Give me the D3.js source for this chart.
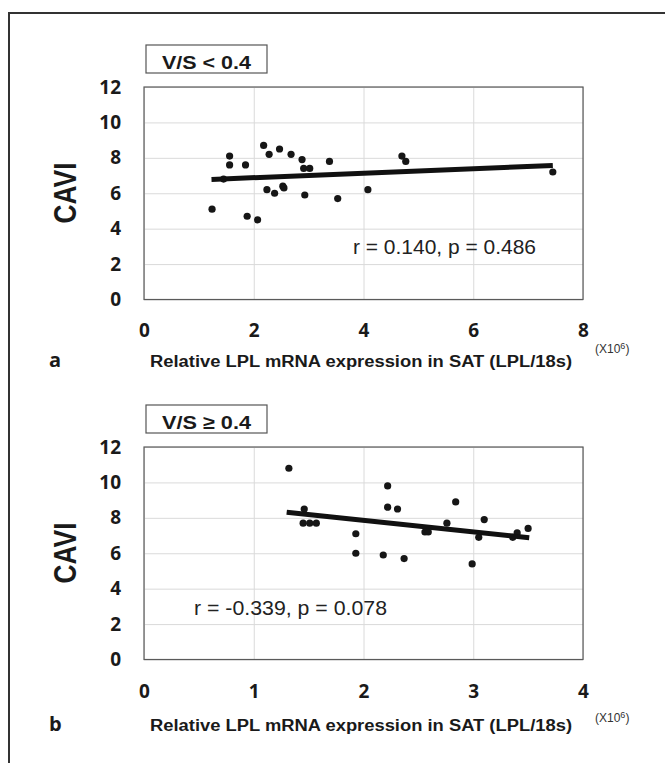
<!DOCTYPE html>
<html>
<head>
<meta charset="utf-8">
<script src="https://cdn.jsdelivr.net/npm/d3@7"></script>
<style>
  body { margin: 0; background: #fff; }
  svg { display: block; }
</style>
</head>
<body>
<div id="chart"></div>
<script>
// --- data ---
const yTicks = [0, 2, 4, 6, 8, 10, 12];

// panel a : V/S < 0.4
const aXTicks = [0, 2, 4, 6, 8];
const aX = [1.24, 1.45, 1.56, 1.56, 1.85, 1.88, 2.07, 2.18, 2.28, 2.24, 2.38, 2.47, 2.53,
            2.55, 2.68, 2.88, 2.91, 3.02, 2.93, 3.38, 3.53, 4.08, 4.70, 4.77, 7.45];
const aY = [5.1, 6.8, 8.1, 7.6, 7.6, 4.7, 4.5, 8.7, 8.2, 6.2, 6.0, 8.5, 6.4,
            6.3, 8.2, 7.9, 7.4, 7.4, 5.9, 7.8, 5.7, 6.2, 8.1, 7.8, 7.2];
const aFitX = [1.23, 7.45];
const aFitY = [6.78, 7.57];

// panel b : V/S >= 0.4
const bXTicks = [0, 1, 2, 3, 4];
const bX = [1.32, 1.46, 1.45, 1.51, 1.57, 1.93, 1.93, 2.22, 2.22, 2.31, 2.18,
            2.37, 2.56, 2.59, 2.76, 2.84, 3.05, 3.10, 2.99, 3.36, 3.40, 3.50];
const bY = [10.8, 8.5, 7.7, 7.7, 7.7, 7.1, 6.0, 9.8, 8.6, 8.5, 5.9,
            5.7, 7.2, 7.2, 7.7, 8.9, 6.9, 7.9, 5.4, 6.9, 7.15, 7.4];
const bFitX = [1.30, 3.51];
const bFitY = [8.32, 6.88];

const W = 665, H = 763;
const svg = d3.select("#chart").append("svg")
  .attr("width", W).attr("height", H);

// outer frame (left + top only visible)
svg.append("path")
  .attr("d", `M9,${H} V13 H${W}`)
  .attr("fill", "none")
  .attr("stroke", "#333")
  .attr("stroke-width", 2);

const tickFont = "'Open Sans', Lato, sans-serif";
const arial = "'Liberation Sans', Arial, sans-serif";

function drawPanel(cfg) {
  const left = 144, right = 583;
  const top = cfg.top, bottom = cfg.top + 212.5;

  const x = d3.scaleLinear().domain([0, cfg.xMax]).range([left, right]);
  const y = d3.scaleLinear().domain([0, 12]).range([bottom, top]);

  const g = svg.append("g");

  // grid lines
  g.append("g")
    .attr("transform", `translate(0,${bottom})`)
    .call(d3.axisBottom(x).tickValues(cfg.xTicks).tickSize(-(bottom - top)).tickFormat(""))
    .call(s => s.select(".domain").remove())
    .call(s => s.selectAll("line").attr("stroke", "#dadada"));
  g.append("g")
    .attr("transform", `translate(${left},0)`)
    .call(d3.axisLeft(y).tickValues(yTicks).tickSize(-(right - left)).tickFormat(""))
    .call(s => s.select(".domain").remove())
    .call(s => s.selectAll("line").attr("stroke", "#dadada"));

  // plot border
  g.append("rect")
    .attr("x", left).attr("y", top)
    .attr("width", right - left).attr("height", bottom - top)
    .attr("fill", "none")
    .attr("stroke", "#5a5a5a")
    .attr("stroke-width", 1.2);

  // tick labels
  g.append("g")
    .attr("transform", `translate(${left},0)`)
    .call(d3.axisLeft(y).tickValues(yTicks).tickSize(0).tickPadding(23).tickFormat(d3.format("d")))
    .call(s => s.select(".domain").remove())
    .call(s => s.selectAll("text")
      .attr("font-family", tickFont).attr("font-weight", 700)
      .attr("font-size", 19).attr("fill", "#1a1a1a"));
  g.append("g")
    .attr("transform", `translate(0,${bottom})`)
    .call(d3.axisBottom(x).tickValues(cfg.xTicks).tickSize(0).tickPadding(cfg.xPad).tickFormat(d3.format("d")))
    .call(s => s.select(".domain").remove())
    .call(s => s.selectAll("text")
      .attr("font-family", tickFont).attr("font-weight", 700)
      .attr("font-size", 19).attr("fill", "#1a1a1a"));

  // points
  const pts = cfg.xs.map((v, i) => ({ x: v, y: cfg.ys[i] }));
  g.selectAll(".dot").data(pts).enter().append("circle")
    .attr("class", "dot")
    .attr("cx", d => x(d.x)).attr("cy", d => y(d.y))
    .attr("r", 3.6)
    .attr("fill", "#161616");

  // regression line
  const fit = cfg.fitX.map((v, i) => ({ x: v, y: cfg.fitY[i] }));
  g.append("path")
    .datum(fit)
    .attr("d", d3.line().x(d => x(d.x)).y(d => y(d.y)))
    .attr("fill", "none")
    .attr("stroke", "#111")
    .attr("stroke-width", 5);

  // r / p text
  g.append("text")
    .attr("x", cfg.statX).attr("y", cfg.statY)
    .attr("font-family", arial).attr("font-size", 20)
    .attr("fill", "#222")
    .attr("textLength", cfg.statLen).attr("lengthAdjust", "spacingAndGlyphs")
    .text(cfg.stat);

  // group label box
  g.append("rect")
    .attr("x", 146).attr("y", top - 42)
    .attr("width", 121).attr("height", 28)
    .attr("fill", "#fff")
    .attr("stroke", "#555").attr("stroke-width", 1.2);
  g.append("text")
    .attr("x", 162).attr("y", top - 18.5)
    .attr("font-family", arial).attr("font-weight", 700).attr("font-size", 19)
    .attr("fill", "#1a1a1a")
    .attr("textLength", 89).attr("lengthAdjust", "spacingAndGlyphs")
    .text(cfg.group);

  // y title
  g.append("text")
    .attr("transform", `translate(76,${top + 106}) rotate(-90)`)
    .attr("text-anchor", "middle")
    .attr("font-family", arial).attr("font-weight", 700).attr("font-size", 31)
    .attr("fill", "#1a1a1a")
    .attr("textLength", 61).attr("lengthAdjust", "spacingAndGlyphs")
    .text("CAVI");

  // x title
  g.append("text")
    .attr("x", 150).attr("y", bottom + cfg.titleOff)
    .attr("font-family", arial).attr("font-weight", 700).attr("font-size", 16)
    .attr("fill", "#1a1a1a")
    .attr("textLength", 422).attr("lengthAdjust", "spacingAndGlyphs")
    .text("Relative LPL mRNA expression in SAT (LPL/18s)");

  // (X10^6)
  const unit = g.append("text")
    .attr("x", 595).attr("y", bottom + cfg.unitOff)
    .attr("font-family", arial).attr("font-size", 12)
    .attr("fill", "#333");
  unit.append("tspan").text("(X10");
  unit.append("tspan").attr("dy", -4).attr("font-size", 9).text("6");
  unit.append("tspan").attr("dy", 4).text(")");

  // panel letter
  g.append("text")
    .attr("x", 49).attr("y", bottom + cfg.titleOff)
    .attr("font-family", tickFont).attr("font-weight", 700).attr("font-size", 20)
    .attr("fill", "#1a1a1a")
    .text(cfg.letter);
}

drawPanel({
  top: 87, xMax: 8, xTicks: aXTicks, xPad: 24,
  xs: aX, ys: aY, fitX: aFitX, fitY: aFitY,
  stat: "r = 0.140, p = 0.486", statX: 353, statY: 254, statLen: 183,
  group: "V/S < 0.4", letter: "a", titleOff: 67, unitOff: 53
});

drawPanel({
  top: 447, xMax: 4, xTicks: bXTicks, xPad: 25,
  xs: bX, ys: bY, fitX: bFitX, fitY: bFitY,
  stat: "r = -0.339, p = 0.078", statX: 194, statY: 615, statLen: 193,
  group: "V/S \u2265 0.4", letter: "b", titleOff: 71, unitOff: 62
});
</script>
</body>
</html>
